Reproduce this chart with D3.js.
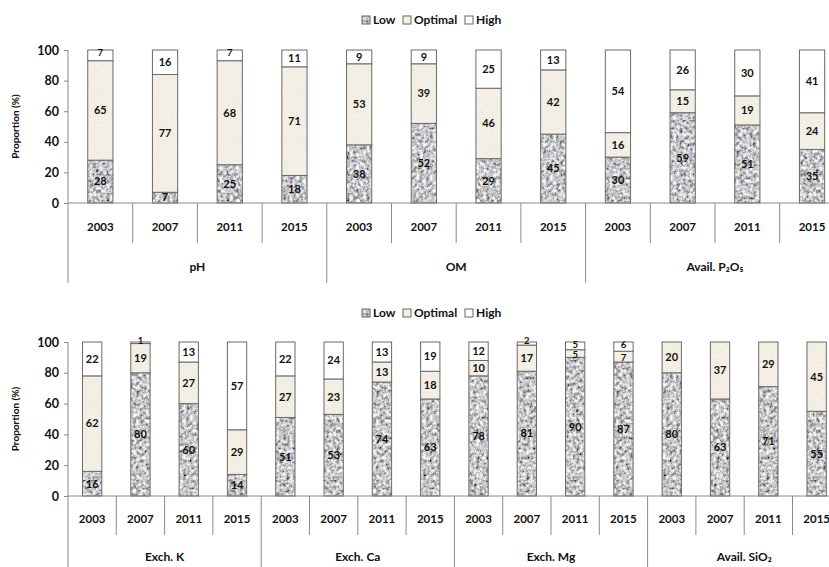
<!DOCTYPE html>
<html>
<head>
<meta charset="utf-8">
<script src="https://cdn.jsdelivr.net/npm/d3@7"></script>
<style>
  body { margin: 0; background: #fff; }
  text { font-family: Lato, "Open Sans", sans-serif; font-weight: bold; fill: #111; }
</style>
</head>
<body>
<div class="chart"></div>
<script>
// data
const years = ["2003", "2007", "2011", "2015"];
const classes = ["Low", "Optimal", "High"];

const topGroups = ["pH", "OM", "Avail. P₂O₅"];
const topLow     = [28, 7, 25, 18,  38, 52, 29, 45,  30, 59, 51, 35];
const topOptimal = [65, 77, 68, 71, 53, 39, 46, 42,  16, 15, 19, 24];
const topHigh    = [7, 16, 7, 11,   9, 9, 25, 13,    54, 26, 30, 41];

const botGroups = ["Exch. K", "Exch. Ca", "Exch. Mg", "Avail. SiO₂"];
const botLow     = [16, 80, 60, 14,  51, 53, 74, 63,  78, 81, 90, 87,  80, 63, 71, 55];
const botOptimal = [62, 19, 27, 29,  27, 23, 13, 18,  10, 17, 5, 7,    20, 37, 29, 45];
const botHigh    = [22, 1, 13, 57,   22, 24, 13, 19,  12, 2, 5, 6,     0, 0, 0, 0];

const yTicks = [0, 20, 40, 60, 80, 100];

const W = 829, H = 567;
const svg = d3.select(".chart").append("svg")
    .attr("width", W).attr("height", H);

// textures
const defs = svg.append("defs");
const f1 = defs.append("filter").attr("id", "granite")
    .attr("x", 0).attr("y", 0).attr("width", 1).attr("height", 1);
f1.append("feTurbulence").attr("type", "fractalNoise")
    .attr("baseFrequency", 0.3).attr("numOctaves", 3).attr("seed", 4);
f1.append("feColorMatrix").attr("type", "matrix")
    .attr("values", "1.6 0 0 0 -0.23  1.6 0 0 0 -0.23  1.6 0 0 0 -0.21  0 0 0 0 1");
const f2 = defs.append("filter").attr("id", "sand")
    .attr("x", 0).attr("y", 0).attr("width", 1).attr("height", 1);
f2.append("feTurbulence").attr("type", "fractalNoise")
    .attr("baseFrequency", 0.6).attr("numOctaves", 2).attr("seed", 7);
f2.append("feColorMatrix").attr("type", "matrix")
    .attr("values", "0.16 0 0 0 0.82  0.16 0 0 0 0.78  0.16 0 0 0 0.70  0 0 0 0 1");

[["lowTex", "granite"], ["optTex", "sand"]].forEach(function(p) {
    defs.append("pattern").attr("id", p[0])
        .attr("patternUnits", "userSpaceOnUse")
        .attr("width", 120).attr("height", 120)
        .append("rect").attr("width", 120).attr("height", 120)
        .attr("filter", "url(#" + p[1] + ")");
});
const fills = {Low: "url(#lowTex)", Optimal: "url(#optTex)", High: "#fff"};

function panel(cfg) {
    const n = cfg.low.length;
    const rows = d3.range(n).map(function(i) {
        return {i: i, Low: cfg.low[i], Optimal: cfg.optimal[i], High: cfg.high[i]};
    });
    const x = d3.scaleBand()
        .domain(d3.range(n))
        .range([cfg.left, cfg.left + cfg.step * n])
        .paddingInner(cfg.pad).paddingOuter(cfg.pad / 2);
    const y = d3.scaleLinear().domain([0, 100]).range([cfg.bottom, cfg.top]);

    const g = svg.append("g");

    // legend
    const leg = g.append("g").attr("transform", "translate(0," + cfg.legendY + ")");
    const legX = [362, 403, 465];
    classes.forEach(function(c, k) {
        leg.append("rect").attr("x", legX[k]).attr("y", -4).attr("width", 8).attr("height", 8)
            .attr("fill", fills[c]).attr("stroke", "#666").attr("stroke-width", 1);
        leg.append("text").attr("x", legX[k] + 11).attr("y", 0).attr("dy", "0.35em")
            .style("font-size", "12px").text(c);
    });

    // y axis
    const ax = g.append("g")
        .attr("transform", "translate(" + cfg.left + ",0)")
        .call(d3.axisLeft(y).tickValues(yTicks).tickSize(4).tickPadding(5));
    ax.select(".domain").attr("stroke", "#8a8a8a").attr("d", "M0," + cfg.top + "V" + cfg.bottom);
    ax.selectAll(".tick line").attr("stroke", "#8a8a8a");
    ax.selectAll(".tick text").style("font-size", "12.5px").attr("fill", "#111");

    g.append("text")
        .attr("transform", "translate(19," + ((cfg.top + cfg.bottom) / 2) + ") rotate(-90)")
        .attr("text-anchor", "middle")
        .style("font-size", "10px")
        .text("Proportion (%)");

    // stacked bars
    const series = d3.stack().keys(classes)(rows);
    const layer = g.selectAll(".layer").data(series).enter().append("g")
        .attr("fill", function(d) { return fills[d.key]; });
    layer.selectAll("rect").data(function(d) { return d; }).enter().append("rect")
        .filter(function(d) { return d[1] > d[0]; })
        .attr("x", function(d) { return x(d.data.i); })
        .attr("y", function(d) { return y(d[1]); })
        .attr("width", x.bandwidth())
        .attr("height", function(d) { return y(d[0]) - y(d[1]); })
        .attr("stroke", "#6a6a6a").attr("stroke-width", 1);

    // value labels (small segments get a smaller font, nudged apart)
    series.forEach(function(s) {
        g.selectAll(null).data(s.filter(function(d) { return d[1] > d[0]; })).enter()
            .append("text")
            .attr("x", function(d) { return x(d.data.i) + x.bandwidth() / 2; })
            .attr("y", function(d) {
                const v = d[1] - d[0];
                if (v < 3) return y(d[1]) - 1;
                if (v < 8 && s.key === "High") return y(d[1]) + 3;
                if (v < 8 && s.key === "Optimal") return y((d[0] + d[1]) / 2) + 1.5;
                return y((d[0] + d[1]) / 2);
            })
            .attr("dy", "0.35em")
            .attr("text-anchor", "middle")
            .style("font-size", function(d) {
                const v = d[1] - d[0];
                return (v < 8 && s.key !== "Low") ? "9.5px" : "11px";
            })
            .text(function(d) { return d[1] - d[0]; });
    });

    // baseline
    g.append("line").attr("x1", cfg.left).attr("x2", W)
        .attr("y1", cfg.bottom).attr("y2", cfg.bottom)
        .attr("stroke", "#8a8a8a");

    // category axis: year dividers and group dividers
    const step = x.step();
    d3.range(n + 1).forEach(function(i) {
        const xx = cfg.left + i * step;
        const isGroup = i % 4 === 0;
        g.append("line").attr("x1", xx).attr("x2", xx)
            .attr("y1", cfg.bottom)
            .attr("y2", cfg.bottom + (isGroup ? cfg.groupTickLen : cfg.yearTickLen))
            .attr("stroke", "#8a8a8a");
    });
    g.selectAll(null).data(rows).enter().append("text")
        .attr("x", function(d) { return x(d.i) + x.bandwidth() / 2; })
        .attr("y", cfg.bottom + cfg.yearDy)
        .attr("dy", "0.35em")
        .attr("text-anchor", "middle")
        .style("font-size", "11.5px")
        .text(function(d) { return years[d.i % 4]; });
    g.selectAll(null).data(cfg.groups).enter().append("text")
        .attr("x", function(d, k) { return cfg.left + (k * 4 + 2) * step; })
        .attr("y", cfg.bottom + cfg.groupDy)
        .attr("dy", "0.35em")
        .attr("text-anchor", "middle")
        .style("font-size", "12px")
        .text(function(d) { return d; });
}

panel({
    low: topLow, optimal: topOptimal, high: topHigh, groups: topGroups,
    left: 68, step: 64.7, pad: 0.61, top: 50, bottom: 203,
    legendY: 20, yearDy: 24, groupDy: 64, yearTickLen: 40, groupTickLen: 80
});
panel({
    low: botLow, optimal: botOptimal, high: botHigh, groups: botGroups,
    left: 68, step: 48.3, pad: 0.6, top: 342, bottom: 496,
    legendY: 313, yearDy: 23, groupDy: 61, yearTickLen: 39, groupTickLen: 80
});
</script>
</body>
</html>
